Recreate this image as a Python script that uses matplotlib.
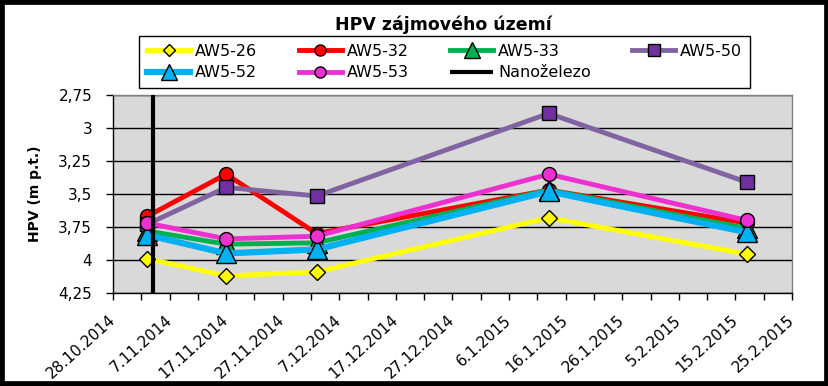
import datetime as dt
import matplotlib
matplotlib.use('Agg')
import matplotlib.pyplot as plt
import matplotlib.dates as mdates
import matplotlib.patches as patches
from matplotlib.ticker import FixedLocator, FuncFormatter

# data
dates = [dt.date(2014, 11, 3), dt.date(2014, 11, 17), dt.date(2014, 12, 3),
         dt.date(2015, 1, 13), dt.date(2015, 2, 17)]
aw5_26 = [3.99, 4.12, 4.09, 3.68, 3.955]
aw5_32 = [3.67, 3.35, 3.80, 3.47, 3.72]
aw5_33 = [3.78, 3.88, 3.87, 3.47, 3.76]
aw5_50 = [3.73, 3.45, 3.515, 2.89, 3.41]
aw5_52 = [3.81, 3.95, 3.92, 3.48, 3.79]
aw5_53 = [3.72, 3.84, 3.82, 3.35, 3.70]
nano_dates = [dt.date(2014, 11, 4), dt.date(2014, 11, 4)]
nano_depth = [2.75, 4.25]

y_ticks = [2.75, 3.0, 3.25, 3.5, 3.75, 4.0, 4.25]
x_start = dt.date(2014, 10, 28)
x_end = dt.date(2015, 2, 25)


def main():
    fig = plt.figure(figsize=(8.29, 3.86), dpi=100)
    ax = fig.add_axes([113 / 829, 1 - 293 / 386, (792 - 113) / 829, (293 - 95) / 386])
    ax.set_facecolor('#D9D9D9')

    # series: (values, label, line colour, marker, marker colour, marker size, line width)
    series = [
        (aw5_26, 'AW5-26', '#FFFF00', 'D', '#FFFF00', 8, 3.5),
        (aw5_32, 'AW5-32', '#FF0000', 'o', '#FF0000', 10, 3.5),
        (aw5_33, 'AW5-33', '#00B050', '^', '#00B050', 14, 3.5),
        (aw5_50, 'AW5-50', '#8064A2', 's', '#7030A0', 10.5, 3.5),
        (aw5_52, 'AW5-52', '#00B0F0', '^', '#00B0F0', 15, 4.5),
        (aw5_53, 'AW5-53', '#EE30D0', 'o', '#EE30D0', 10, 3.5),
    ]
    handles = {}
    for vals, label, lc, mk, mc, ms, lw in series:
        h, = ax.plot(dates, vals, color=lc, lw=lw, marker=mk, markersize=ms,
                     markerfacecolor=mc, markeredgecolor='black', markeredgewidth=1.0,
                     label=label, zorder=3)
        handles[label] = h
    h, = ax.plot(nano_dates, nano_depth, color='black', lw=3, label='Nanoželezo', zorder=4,
                 solid_capstyle='butt')
    handles['Nanoželezo'] = h

    # osy
    ax.set_xlim(mdates.date2num(x_start), mdates.date2num(x_end))
    ax.set_ylim(4.25, 2.75)
    ax.set_yticks(y_ticks)
    ax.yaxis.set_major_formatter(FuncFormatter(lambda v, p: f'{v:g}'.replace('.', ',')))
    ax.grid(True, axis='y', color='black', lw=1)
    ax.set_axisbelow(True)

    tick_days = [mdates.date2num(x_start + dt.timedelta(days=d)) for d in range(0, 121, 5)]
    ax.xaxis.set_major_locator(FixedLocator(tick_days))

    def fmt_date(v, pos):
        d = mdates.num2date(v).date()
        if (d - x_start).days % 10 != 0:
            return ''
        return f'{d.day}.{d.month}.{d.year}'
    ax.xaxis.set_major_formatter(FuncFormatter(fmt_date))
    ax.tick_params(axis='x', direction='out', length=5, width=1, labelsize=11, pad=13)
    ax.tick_params(axis='y', direction='out', length=5, width=1, labelsize=11, pad=10)
    plt.setp(ax.get_xticklabels(), rotation=42, ha='right', va='center', rotation_mode='anchor')

    for s in ['left', 'bottom']:
        ax.spines[s].set_color('black')
        ax.spines[s].set_linewidth(1)
    for s in ['top', 'right']:
        ax.spines[s].set_color('#808080')
        ax.spines[s].set_linewidth(1)

    ax.set_ylabel('HPV (m p.t.)', fontsize=10, fontweight='bold', labelpad=12)

    fig.text(443 / 829, 1 - 25 / 386, 'HPV zájmového území', fontsize=12.5,
             fontweight='bold', ha='center', va='center')

    # legenda - poradi pro plneni po sloupcich
    order = ['AW5-26', 'AW5-52', 'AW5-32', 'AW5-53', 'AW5-33', 'Nanoželezo', 'AW5-50']
    leg = fig.legend([handles[k] for k in order], order, ncol=4, loc='upper left',
                     bbox_to_anchor=(139 / 829, 1 - 36 / 386), fontsize=11.5,
                     frameon=True, fancybox=False, edgecolor='black', framealpha=1,
                     handlelength=2.7, handletextpad=0.3, columnspacing=2.6,
                     labelspacing=0.4, borderpad=0.5, borderaxespad=0)
    leg.get_frame().set_linewidth(1)
    for lh in leg.legend_handles:
        lh.set_markersize(lh.get_markersize() * 0.8)

    fig.patches.append(patches.Rectangle((0, 0), 1, 1, transform=fig.transFigure,
                                         fill=False, lw=7, edgecolor='black'))

    fig.savefig('out.png', dpi=100)


if __name__ == '__main__':
    main()
